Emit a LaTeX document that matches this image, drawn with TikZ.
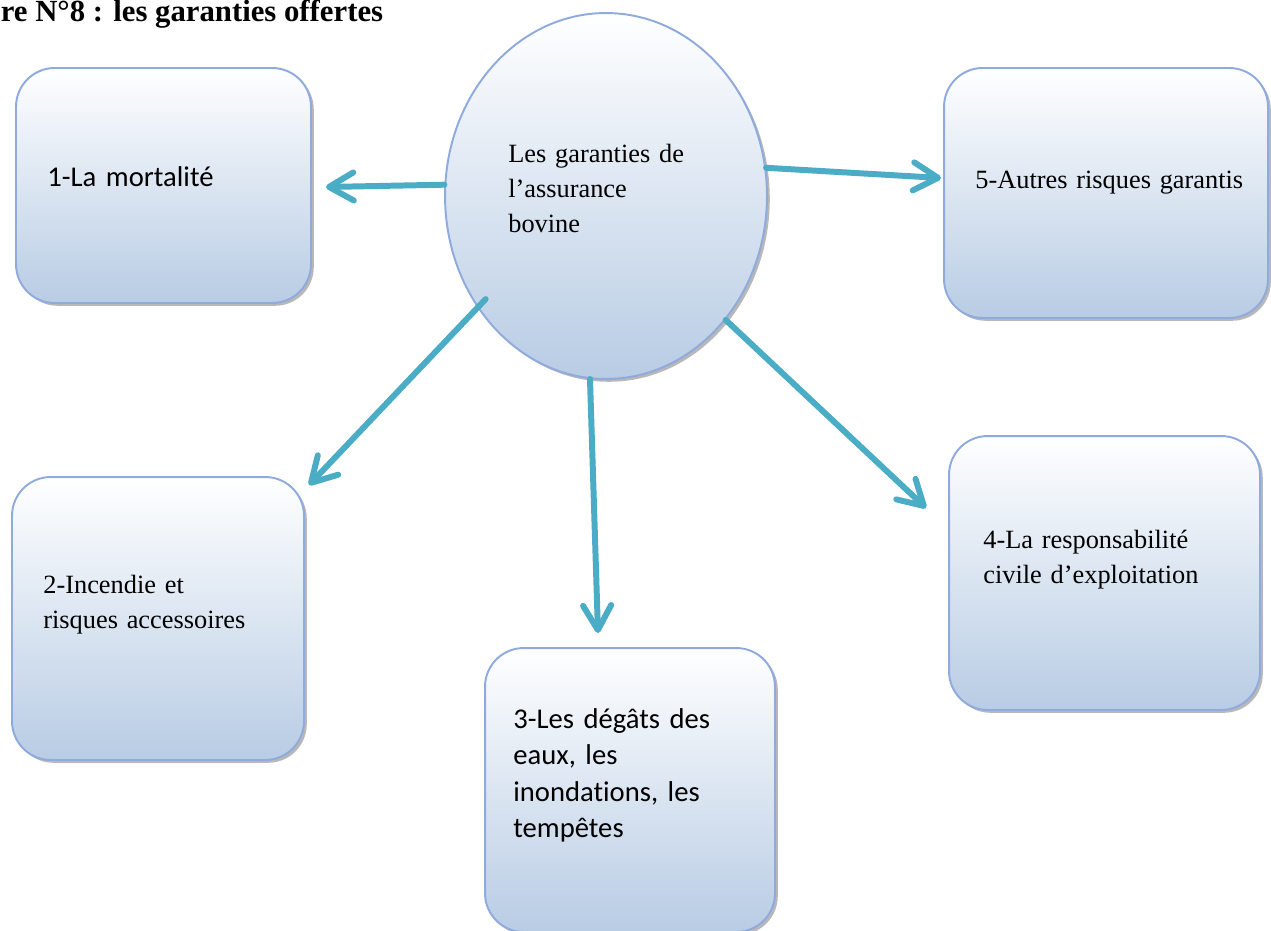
\documentclass[tikz,border=0pt]{standalone}
\usepackage{fontspec}
\setmainfont{Liberation Serif}
\newfontfamily\carl[Ligatures={NoCommon}]{Carlito}
\usetikzlibrary{arrows.meta,shadows,shapes.geometric}
\definecolor{bord}{HTML}{8FAADC}
\definecolor{fillbot}{HTML}{B8CCE4}
\definecolor{arrcol}{HTML}{4BACC6}
\begin{document}
\begin{tikzpicture}[x=0.02cm,y=-0.02cm,
  shapebase/.style={draw=bord, line width=1.1pt, top color=white, bottom color=fillbot,
    drop shadow={shadow xshift=1.6pt,shadow yshift=-1.6pt,opacity=0.5,fill=black!55}, inner sep=0},
  boxnode/.style={shapebase, rectangle, rounded corners=22pt},
  ellnode/.style={shapebase, ellipse},
  serif/.style={font=\fontsize{15}{20}\selectfont},
  calib/.style={font=\carl\fontsize{16.3}{20.8}\selectfont},
  txt/.style={anchor=base west, align=left, inner sep=0, text width=8cm},
  conn/.style={draw=arrcol, line width=3.4pt, line cap=round,
    -{Straight Barb[length=14pt,width=16pt,round]}}]
\clip (0,0) rectangle (1271,930);
\fill[white] (0,0) rectangle (1271,930);

\node[anchor=base west, inner sep=0, font=\bfseries\fontsize{17.5}{20}\selectfont] (title) at (0.5,21) {re N°8 : les garanties offertes};

\node[boxnode, minimum width=5.9cm, minimum height=4.7cm] (b1) at (163.5,185.5) {};
\node[boxnode, minimum width=6.48cm, minimum height=5.0cm] (b5) at (1106,193) {};
\node[boxnode, minimum width=5.84cm, minimum height=5.66cm] (b2) at (158,618.5) {};
\node[boxnode, minimum width=5.8cm, minimum height=5.68cm] (b3) at (630,790) {};
\node[boxnode, minimum width=6.22cm, minimum height=5.48cm] (b4) at (1104.5,573) {};
\node[ellnode, minimum width=6.44cm, minimum height=7.32cm] (e) at (606,196) {};

\node[txt, calib] (l1) at (47,186) {1-La mortalité};
\node[txt, serif] (le) at (508,162) {Les garanties de\\l’assurance\\bovine};
\node[txt, serif] (l5) at (975,188) {5-Autres risques garantis};
\node[txt, serif] (l2) at (43,593) {2-Incendie et\\risques accessoires};
\node[txt, calib] (l3) at (513,728) {3-Les dégâts des\\eaux, les\\inondations, les\\tempêtes};
\node[txt, serif] (l4) at (983,548) {4-La responsabilité\\civile d’exploitation};

\coordinate (t1) at (326,187);
\coordinate (t5) at (941,178);
\coordinate (t2) at (309,485);
\coordinate (t3) at (598,633);
\coordinate (t4) at (926,508);

\draw[conn] (e.176.8) -- (t1);
\draw[conn] (e.10.5) -- (t5);
\draw[conn, shorten <=-0.24cm] (e.221.9) -- (t2);
\draw[conn] (e.265.9) -- (t3);
\draw[conn] (e.314.5) -- (t4);
\end{tikzpicture}
\end{document}
